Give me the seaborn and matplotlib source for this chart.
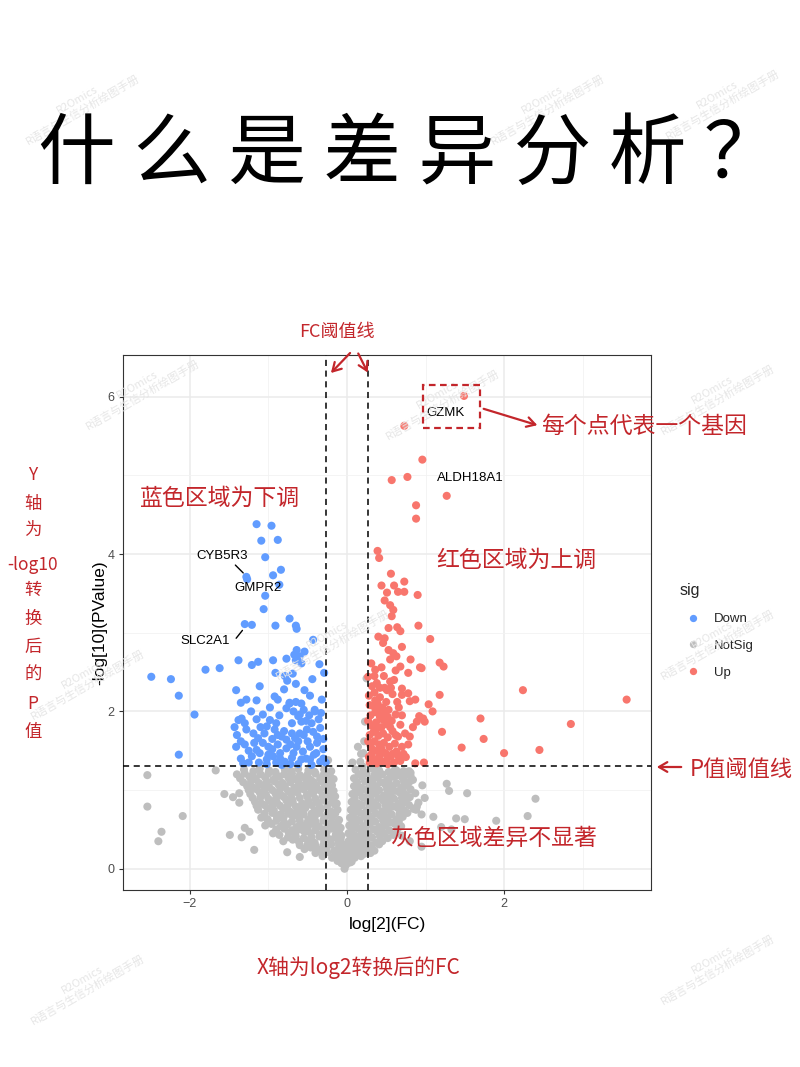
import numpy as np
import pandas as pd
import matplotlib
matplotlib.use("Agg")
import matplotlib.pyplot as plt
import seaborn as sns
from matplotlib.patches import FancyArrowPatch, Rectangle

# ---- data (log2FC, -log10 P) ----
down_x = [-2.49, -2.24, -2.14, -1.94, -2.14, -1.80, -1.62, -1.38, -1.21, -1.13, -0.94, -0.91,
          -1.30, -1.21, -0.91, -1.06, -1.04, -0.73, -0.65, -0.64, -1.28, -1.27, -0.94, -0.84,
          -0.86, -1.04, -1.09, -0.88, -1.15, -0.96, -0.43, -0.64, -0.67, -0.60, -0.54, -0.65,
          -0.58, -0.77, -0.35, -0.29, -0.44, -0.79, -0.76, -0.69, -0.65, -0.54, -0.80, -1.11,
          -1.41, -1.35, -1.28, -1.15, -0.92, -0.88, -0.73, -0.65, -0.58, -0.41,
          -1.43, -1.38, -1.34, -1.30, -1.28, -1.41, -1.30, -1.19, -1.13, -1.07, -1.15, -1.21,
          -1.07, -0.98, -1.02, -1.11, -1.02, -0.94, -0.85, -0.92, -0.83, -0.77, -0.88, -0.77,
          -0.73, -0.77, -0.68, -0.62, -0.58, -0.70, -0.51, -0.43, -0.34, -0.60, -0.66, -0.64,
          -0.56, -0.47, -0.39, -0.58, -0.47, -0.34, -0.70, -0.79, -0.83, -0.41,
          -1.25, -1.35, -1.00, -0.95, -1.05, -0.50, -0.38, -0.30, -0.30, -0.90, -0.62, -0.45,
          -0.36, -0.48, -0.55, -0.32, -0.47, -0.86, -0.98, -1.22, -1.02, -1.12,
          -1.40, -1.35, -1.25, -1.18, -1.10, -1.15, -0.90, -0.95, -0.85, -0.80, -0.72, -0.68,
          -0.62, -0.55, -0.52, -0.42, -0.38, -0.30, -0.33, -0.52, -0.45, -0.27, -0.72, -0.88,
          -1.00, -0.60, -0.70, -1.32]
down_y = [2.44, 2.41, 2.20, 1.96, 1.45, 2.53, 2.55, 2.65, 2.59, 2.63, 2.65, 2.49,
          3.11, 3.10, 3.09, 3.30, 3.47, 3.18, 3.09, 3.05, 3.71, 3.68, 3.73, 3.80,
          3.61, 3.96, 4.17, 4.18, 4.38, 4.36, 2.91, 2.78, 2.72, 2.70, 2.76, 2.65,
          2.61, 2.67, 2.60, 2.49, 2.41, 2.45, 2.39, 2.48, 2.35, 2.27, 2.28, 2.32,
          2.27, 2.11, 2.15, 2.14, 2.19, 2.15, 2.10, 2.12, 2.10, 2.00,
          1.80, 1.89, 1.91, 1.85, 1.77, 1.55, 1.58, 1.72, 1.66, 1.60, 1.51, 1.43,
          1.96, 1.89, 1.81, 1.47, 1.39, 1.43, 1.47, 1.77, 1.68, 1.64, 1.58, 1.53,
          2.11, 2.04, 2.00, 1.94, 1.87, 1.85, 1.77, 1.74, 1.79, 1.72, 1.66, 1.55,
          1.49, 1.55, 1.47, 1.39, 1.39, 1.36, 1.41, 1.36, 1.32, 2.02,
          1.35, 1.40, 1.55, 1.65, 1.72, 1.62, 1.60, 1.52, 1.40, 1.35, 1.33, 1.32,
          1.90, 1.95, 2.02, 2.15, 2.20, 1.95, 2.05, 2.00, 1.33, 1.35,
          1.70, 1.62, 1.50, 1.60, 1.80, 1.90, 1.85, 1.52, 1.40, 1.75, 1.58, 1.47,
          1.62, 1.70, 1.40, 1.45, 1.68, 1.65, 1.98, 1.88, 1.85, 1.35, 1.33, 1.70,
          1.45, 1.96, 1.72, 1.34]

up_x = [1.49, 0.73, 0.96, 0.57, 0.77, 1.27, 0.88, 0.88, 0.39, 0.41, 0.56, 0.44,
        0.60, 0.73, 0.65, 0.73, 0.90, 0.51, 0.48, 0.55, 0.59, 0.57, 0.53, 0.64,
        0.68, 0.91, 0.40, 0.48, 1.06, 0.46, 0.53, 0.59, 0.63, 0.55, 0.70, 0.31,
        0.36, 0.44, 0.68, 0.81, 0.93, 1.18, 1.23, 0.27, 0.38, 0.55, 0.51, 0.70,
        0.78, 0.70, 0.80, 0.87, 0.78, 1.18, 2.24, 3.56, 2.85, 1.70, 1.04, 1.09,
        0.92, 0.97, 0.84, 1.21, 1.74, 1.46, 2.00, 2.45, 0.87, 0.98, 0.89, 0.99, 0.95,
        0.29, 0.33, 0.38, 0.45, 0.52, 0.60, 0.68, 0.31, 0.36, 0.42, 0.49, 0.56,
        0.63, 0.72, 0.30, 0.35, 0.41, 0.47, 0.54, 0.61, 0.29, 0.34, 0.40, 0.46,
        0.52, 0.58, 0.65, 0.31, 0.37, 0.44, 0.50, 0.57, 0.68, 0.30, 0.36, 0.42,
        0.48, 0.33, 0.39, 0.45, 0.53, 0.62, 0.74, 0.78, 0.28, 0.35, 0.42, 0.48,
        0.58, 0.64,
        0.28, 0.32, 0.27, 0.39, 0.44, 0.51, 0.58, 0.66, 0.70, 0.62, 0.55, 0.38,
        0.27, 0.45, 0.52, 0.40, 0.29, 0.36, 0.50, 0.56, 0.42, 0.32, 0.60, 0.75,
        0.70, 0.80, 0.66, 0.47, 0.35, 0.62]
up_y = [6.01, 5.63, 5.20, 4.94, 4.98, 4.74, 4.62, 4.45, 4.04, 3.95, 3.75, 3.60,
        3.60, 3.65, 3.52, 3.52, 3.48, 3.51, 3.41, 3.35, 3.29, 3.21, 3.06, 3.07,
        3.02, 3.09, 2.95, 2.93, 2.92, 2.87, 2.78, 2.74, 2.70, 2.66, 2.82, 2.61,
        2.53, 2.56, 2.57, 2.66, 2.56, 2.62, 2.57, 2.44, 2.36, 2.38, 2.27, 2.29,
        2.23, 2.21, 2.13, 2.15, 2.49, 2.21, 2.27, 2.15, 1.84, 1.91, 2.09, 2.00,
        1.94, 1.91, 1.80, 1.74, 1.65, 1.54, 1.47, 1.51, 1.34, 1.35, 1.87, 1.87, 2.55,
        1.35, 1.38, 1.34, 1.36, 1.33, 1.35, 1.37, 1.45, 1.50, 1.44, 1.47, 1.43,
        1.49, 1.46, 1.57, 1.62, 1.58, 1.60, 1.55, 1.59, 1.70, 1.74, 1.69, 1.72,
        1.67, 1.75, 1.68, 1.82, 1.86, 1.80, 1.84, 1.88, 1.83, 1.95, 1.99, 1.93,
        1.97, 2.07, 2.10, 2.05, 2.02, 1.96, 1.72, 1.58, 2.20, 2.24, 2.18, 2.30,
        2.22, 2.12,
        1.42, 1.52, 1.62, 1.40, 1.52, 1.39, 1.46, 1.42, 1.55, 1.70, 1.80, 1.78,
        1.88, 1.90, 1.93, 2.02, 2.08, 2.14, 2.12, 2.30, 2.30, 2.32, 2.40, 1.42,
        1.95, 1.68, 2.05, 2.45, 2.45, 2.52]

ns_x = [
    # outliers
    -2.54, -2.54, -2.09, -2.36, -2.40, -1.67, -1.56, -1.45, -1.37, -1.37,
    -1.49, -1.34, -1.30, -1.24, -1.18, -0.76, -0.60,
    1.27, 1.30, 1.53, 2.40, 2.30, 1.90, 1.50, 1.39, 0.96, 0.99, 0.88, 0.95, 1.10,
    0.80, 0.95, 1.20, 1.33, 0.79, 0.81, 0.73, 0.63,
    0.21, 0.23, 0.25, 0.18, -0.24, 0.17, 0.22, 0.20,
    # left lobe
    -1.31, -1.19, -1.11, -0.99, -0.91, -0.79, -0.71, -0.62, -0.49, -0.41, -0.29, -0.20,
    -1.40, -1.30, -1.20, -1.10, -1.00, -0.90, -0.80, -0.70, -0.60, -0.50, -0.40, -0.30, -0.22,
    -1.36, -1.24, -1.16, -1.04, -0.94, -0.86, -0.74, -0.66, -0.54, -0.46, -0.34, -0.26, -0.17,
    -1.32, -1.22, -1.12, -1.02, -0.92, -0.82, -0.72, -0.62, -0.52, -0.42, -0.32, -0.23,
    -1.27, -1.19, -1.07, -0.99, -0.87, -0.79, -0.67, -0.59, -0.47, -0.39, -0.29, -0.19,
    -1.25, -1.15, -1.05, -0.95, -0.85, -0.75, -0.65, -0.55, -0.45, -0.35, -0.25, -0.17,
    -1.23, -1.11, -1.03, -0.91, -0.83, -0.71, -0.63, -0.51, -0.43, -0.31, -0.23, -0.15,
    -1.20, -1.10, -1.00, -0.90, -0.80, -0.70, -0.60, -0.50, -0.40, -0.30, -0.20,
    -1.17, -1.09, -0.97, -0.89, -0.77, -0.69, -0.57, -0.49, -0.37, -0.29, -0.19, -0.13,
    -1.15, -1.05, -0.95, -0.85, -0.75, -0.65, -0.55, -0.45, -0.35, -0.25, -0.15,
    -1.13, -1.01, -0.93, -0.81, -0.73, -0.61, -0.53, -0.41, -0.33, -0.21, -0.12,
    -1.05, -0.95, -0.85, -0.75, -0.65, -0.55, -0.45, -0.35, -0.25, -0.15,
    -1.09, -1.01, -0.89, -0.81, -0.69, -0.61, -0.49, -0.41, -0.29, -0.19, -0.10,
    -1.00, -0.90, -0.80, -0.70, -0.60, -0.50, -0.40, -0.30, -0.20, -0.12,
    -1.04, -0.96, -0.84, -0.76, -0.64, -0.56, -0.44, -0.36, -0.24, -0.16, -0.08,
    -0.90, -0.80, -0.70, -0.60, -0.50, -0.40, -0.30, -0.20, -0.10,
    -0.94, -0.86, -0.74, -0.66, -0.54, -0.46, -0.34, -0.26, -0.14, -0.07,
    -0.75, -0.65, -0.55, -0.45, -0.35, -0.25, -0.15, -0.08,
    -0.81, -0.69, -0.61, -0.49, -0.41, -0.29, -0.21, -0.11, -0.05,
    -0.60, -0.50, -0.40, -0.30, -0.20, -0.10, -0.02,
    -0.54, -0.46, -0.34, -0.26, -0.16, -0.08, -0.03,
    -0.40, -0.25, -0.15, -0.08, 0.02,
    -0.31, -0.19, -0.11, -0.05, 0.01,
    -0.12, -0.04, 0.06,
    -0.07, -0.01, 0.04, -0.03,
    # right lobe
    0.11, 0.21, 0.33, 0.41, 0.53, 0.61, 0.72, 0.81, 0.07,
    0.15, 0.25, 0.35, 0.45, 0.55, 0.65, 0.75,
    0.09, 0.19, 0.31, 0.39, 0.51, 0.59, 0.71, 0.84, 0.14,
    0.13, 0.23, 0.33, 0.43, 0.53, 0.63, 0.73, 0.80,
    0.09, 0.18, 0.29, 0.37, 0.49, 0.57, 0.69, 0.77,
    0.12, 0.22, 0.31, 0.41, 0.51, 0.61, 0.71, 0.81,
    0.07, 0.16, 0.27, 0.35, 0.47, 0.55, 0.67, 0.75, 0.87,
    0.10, 0.20, 0.30, 0.40, 0.50, 0.60, 0.70, 0.80,
    0.06, 0.14, 0.26, 0.34, 0.46, 0.54, 0.66, 0.74, 0.91,
    0.09, 0.19, 0.29, 0.39, 0.49, 0.59, 0.69, 0.79, 0.89,
    0.05, 0.13, 0.25, 0.33, 0.45, 0.53, 0.65, 0.73, 0.85,
    0.08, 0.17, 0.27, 0.37, 0.47, 0.57, 0.67, 0.77,
    0.04, 0.12, 0.23, 0.31, 0.43, 0.51, 0.63, 0.71,
    0.07, 0.16, 0.26, 0.36, 0.46, 0.56, 0.66,
    0.03, 0.11, 0.21, 0.29, 0.41, 0.49, 0.61, 0.69,
    0.06, 0.14, 0.24, 0.34, 0.44, 0.54, 0.64,
    0.02, 0.09, 0.19, 0.27, 0.39, 0.47, 0.59,
    0.05, 0.13, 0.22, 0.32, 0.42, 0.52,
    0.02, 0.08, 0.17, 0.25, 0.37, 0.45, 0.70,
    0.04, 0.12, 0.21, 0.31, 0.41,
    0.01, 0.07, 0.16, 0.26, 0.35,
    0.05, 0.13, 0.22, 0.30,
    0.03, 0.10, 0.18,
]
ns_y = [
    1.19, 0.79, 0.67, 0.47, 0.35, 1.25, 0.95, 0.91, 0.96, 0.84,
    0.43, 0.40, 0.52, 0.47, 0.24, 0.21, 0.15,
    1.08, 0.99, 0.96, 0.89, 0.67, 0.61, 0.63, 0.64, 1.06, 0.90, 0.75, 0.69, 0.66,
    0.35, 0.28, 0.53, 0.50, 1.24, 1.18, 1.11, 1.25,
    1.47, 1.87, 2.42, 1.46, 1.38, 1.36, 1.62, 1.30,
    1.26, 1.24, 1.27, 1.25, 1.23, 1.26, 1.24, 1.27, 1.25, 1.23, 1.26, 1.24,
    1.20, 1.21, 1.19, 1.20, 1.21, 1.19, 1.20, 1.21, 1.19, 1.20, 1.21, 1.19, 1.20,
    1.15, 1.17, 1.14, 1.16, 1.13, 1.17, 1.15, 1.14, 1.16, 1.13, 1.15, 1.17, 1.14,
    1.10, 1.11, 1.09, 1.10, 1.11, 1.09, 1.10, 1.11, 1.09, 1.10, 1.11, 1.09,
    1.05, 1.03, 1.06, 1.04, 1.07, 1.05, 1.03, 1.06, 1.04, 1.05, 1.03, 1.06,
    1.00, 1.01, 0.99, 1.00, 1.01, 0.99, 1.00, 1.01, 0.99, 1.00, 1.01, 0.99,
    0.95, 0.97, 0.94, 0.96, 0.93, 0.95, 0.97, 0.94, 0.96, 0.93, 0.95, 0.92,
    0.90, 0.91, 0.89, 0.90, 0.91, 0.89, 0.90, 0.91, 0.89, 0.90, 0.91,
    0.85, 0.83, 0.86, 0.84, 0.87, 0.85, 0.83, 0.86, 0.84, 0.87, 0.85, 0.83,
    0.80, 0.81, 0.79, 0.80, 0.81, 0.79, 0.80, 0.81, 0.79, 0.80, 0.81,
    0.75, 0.77, 0.74, 0.76, 0.73, 0.75, 0.77, 0.74, 0.76, 0.73, 0.75,
    0.70, 0.71, 0.69, 0.70, 0.71, 0.69, 0.70, 0.71, 0.69, 0.70,
    0.65, 0.63, 0.66, 0.64, 0.67, 0.65, 0.63, 0.66, 0.64, 0.65, 0.62,
    0.60, 0.61, 0.59, 0.60, 0.61, 0.59, 0.60, 0.61, 0.59, 0.58,
    0.55, 0.57, 0.54, 0.56, 0.53, 0.55, 0.57, 0.54, 0.56, 0.53, 0.52,
    0.50, 0.51, 0.49, 0.50, 0.51, 0.49, 0.50, 0.51, 0.48,
    0.45, 0.43, 0.46, 0.44, 0.47, 0.45, 0.43, 0.46, 0.44, 0.42,
    0.40, 0.41, 0.39, 0.40, 0.41, 0.39, 0.40, 0.38,
    0.35, 0.37, 0.34, 0.36, 0.33, 0.35, 0.37, 0.34, 0.31,
    0.30, 0.31, 0.29, 0.30, 0.31, 0.29, 0.27,
    0.25, 0.27, 0.24, 0.26, 0.23, 0.25, 0.21,
    0.20, 0.21, 0.19, 0.20, 0.18,
    0.16, 0.14, 0.17, 0.15, 0.13,
    0.10, 0.11, 0.09,
    0.07, 0.05, 0.08, 0.00,
    1.26, 1.24, 1.27, 1.25, 1.23, 1.26, 1.24, 1.22, 1.35,
    1.20, 1.21, 1.19, 1.20, 1.21, 1.19, 1.20,
    1.15, 1.17, 1.14, 1.16, 1.13, 1.17, 1.15, 1.13, 1.55,
    1.10, 1.11, 1.09, 1.10, 1.11, 1.09, 1.10, 1.11,
    1.05, 1.03, 1.06, 1.04, 1.07, 1.05, 1.03, 1.06,
    1.00, 1.01, 0.99, 1.00, 1.01, 0.99, 1.00, 1.01,
    0.95, 0.97, 0.94, 0.96, 0.93, 0.95, 0.97, 0.94, 0.96,
    0.90, 0.91, 0.89, 0.90, 0.91, 0.89, 0.90, 0.91,
    0.85, 0.83, 0.86, 0.84, 0.87, 0.85, 0.83, 0.86, 0.84,
    0.80, 0.81, 0.79, 0.80, 0.81, 0.79, 0.80, 0.81, 0.79,
    0.75, 0.77, 0.74, 0.76, 0.73, 0.75, 0.77, 0.74, 0.76,
    0.70, 0.71, 0.69, 0.70, 0.71, 0.69, 0.70, 0.71,
    0.65, 0.63, 0.66, 0.64, 0.67, 0.65, 0.63, 0.66,
    0.60, 0.61, 0.59, 0.60, 0.61, 0.59, 0.60,
    0.55, 0.57, 0.54, 0.56, 0.53, 0.55, 0.57, 0.54,
    0.50, 0.51, 0.49, 0.50, 0.51, 0.49, 0.50,
    0.45, 0.43, 0.46, 0.44, 0.47, 0.45, 0.43,
    0.40, 0.41, 0.39, 0.40, 0.41, 0.39,
    0.35, 0.37, 0.34, 0.36, 0.33, 0.35, 0.42,
    0.30, 0.31, 0.29, 0.30, 0.31,
    0.25, 0.27, 0.24, 0.26, 0.23,
    0.20, 0.21, 0.19, 0.20,
    0.15, 0.14, 0.16,
]

gene_labels = ["GZMK", "ALDH18A1", "CYB5R3", "GMPR2", "SLC2A1"]
label_x = [1.26, 1.57, -1.59, -1.13, -1.80]
label_y = [5.79, 4.97, 3.98, 3.57, 2.90]

fc_cut = 0.263
p_cut = 1.301

sig_colors = {"Down": "#619CFF", "NotSig": "#BEBEBE", "Up": "#F8766D"}
red = "#C3262B"

df = pd.concat([
    pd.DataFrame({"log2FC": ns_x, "logP": ns_y, "sig": "NotSig"}),
    pd.DataFrame({"log2FC": down_x, "logP": down_y, "sig": "Down"}),
    pd.DataFrame({"log2FC": up_x, "logP": up_y, "sig": "Up"}),
], ignore_index=True)

sns.set_theme(style="white")
cjk = ["Noto Sans CJK SC", "DejaVu Sans"]
plt.rcParams["font.family"] = ["Liberation Sans", "DejaVu Sans"]

W, H = 800, 1067
fig = plt.figure(figsize=(8, 10.67), dpi=100)
ax = fig.add_axes([123 / W, 1 - 890 / H, 528 / W, 535 / H])


def fx(px):
    return px / W


def fy(py):
    return 1 - py / H


sns.scatterplot(data=df, x="log2FC", y="logP", hue="sig",
                hue_order=["Down", "NotSig", "Up"], palette=sig_colors,
                s=34, linewidth=0, alpha=1, ax=ax, zorder=3)

ax.set_xlim(-2.85, 3.87)
ax.set_ylim(-0.27, 6.53)
ax.set_xticks([-2, 0, 2])
ax.set_yticks([0, 2, 4, 6])
ax.set_xticks([-1, 1, 3], minor=True)
ax.set_yticks([1, 3, 5], minor=True)
ax.grid(True, which="major", color="#EBEBEB", linewidth=1.1, zorder=0)
ax.grid(True, which="minor", color="#F2F2F2", linewidth=0.6, zorder=0)
ax.set_axisbelow(True)
for sp in ax.spines.values():
    sp.set_color("#333333")
    sp.set_linewidth(0.8)
ax.tick_params(axis="both", which="major", length=3, width=0.8, color="#333333",
               labelsize=9, labelcolor="#4D4D4D", pad=3, bottom=True, left=True)
ax.tick_params(axis="both", which="minor", length=0)
ax.set_xlabel("log[2](FC)", fontsize=12.5, color="black", labelpad=5)
ax.set_ylabel("-log[10](PValue)", fontsize=12.5, color="black", labelpad=0)

ax.axvline(-fc_cut, color="black", linestyle=(0, (4, 3)), linewidth=1.1, zorder=4)
ax.axvline(fc_cut, color="black", linestyle=(0, (4, 3)), linewidth=1.1, zorder=4)
ax.axhline(p_cut, color="black", linestyle=(0, (4, 3)), linewidth=1.1, zorder=4)

for name, lx, ly in zip(gene_labels, label_x, label_y):
    ax.text(lx, ly, name, fontsize=9.5, ha="center", va="center", color="black", zorder=5)
ax.plot([-1.42, -1.32], [3.86, 3.76], color="black", linewidth=1, zorder=5)
ax.plot([-1.41, -1.33], [2.93, 3.03], color="black", linewidth=1, zorder=5)

# legend
handles, labels = ax.get_legend_handles_labels()
ax.legend(handles, labels, title="sig", loc="center left",
          bbox_to_anchor=(fx(668), fy(631)), bbox_transform=fig.transFigure,
          frameon=False, fontsize=9.5, title_fontsize=11.5, markerscale=0.9,
          handletextpad=0.6, labelspacing=1.1, alignment="left")

# title
fig.text(fx(38), fy(156), "什 么 是 差 异 分 析 ？", fontsize=56, family=cjk,
         ha="left", va="center", color="black")

# red notes
note_kw = dict(family=cjk, color=red, ha="center", va="center")
fig.text(fx(337), fy(332), "FC阈值线", fontsize=13, **note_kw)
fig.text(fx(644), fy(426), "每个点代表一个基因", fontsize=16.5, **note_kw)
fig.text(fx(220), fy(498), "蓝色区域为下调", fontsize=16.5, **note_kw)
fig.text(fx(516), fy(560), "红色区域为上调", fontsize=16.5, **note_kw)
fig.text(fx(494), fy(838), "灰色区域差异不显著", fontsize=16.5, **note_kw)
fig.text(fx(359), fy(968), "X轴为log2转换后的FC", fontsize=15, **note_kw)
fig.text(fx(741), fy(770), "P值阈值线", fontsize=16, **note_kw)

side = [("Y", 473), ("轴", 502), ("为", 528), ("-log10", 563), ("转", 588),
        ("换", 617), ("后", 645), ("的", 673), ("P", 702), ("值", 730)]
for s, py in side:
    fig.text(fx(33), fy(py + 2), s, fontsize=12.5, **note_kw)

arrow_kw = dict(arrowstyle="->,head_length=6,head_width=3.5", color=red, linewidth=1.6,
                transform=fig.transFigure)
for (x0, y0, x1, y1) in [(352, 351, 329, 375), (357, 351, 369, 375),
                         (481, 408, 540, 426), (684, 767, 654, 767)]:
    fig.add_artist(FancyArrowPatch((fx(x0), fy(y0)), (fx(x1), fy(y1)), **arrow_kw))

fig.add_artist(Rectangle((fx(423), fy(428)), fx(480) - fx(423), fy(385) - fy(428),
                         transform=fig.transFigure, fill=False, edgecolor=red,
                         linestyle=(0, (3, 2)), linewidth=1.6))

# faint watermarks
wm_kw = dict(family=cjk, color="#E6E6E6", rotation=30, ha="center", va="center", zorder=0)
for (px, py) in [(80, 105), (545, 105), (720, 100), (140, 390), (440, 400),
                 (715, 395), (85, 680), (330, 640), (715, 640), (85, 985), (715, 965)]:
    fig.text(fx(px), fy(py), "R2Omics\nR语言与生信分析绘图手册", fontsize=8,
             linespacing=1.2, **wm_kw)

fig.savefig("out.png", dpi=100)
